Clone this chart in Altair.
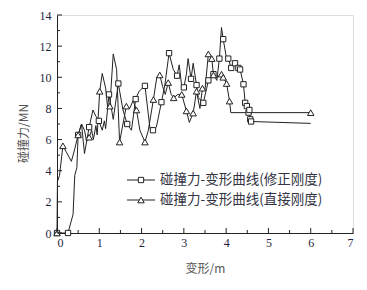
import altair as alt
import pandas as pd

# ---- data ----
series_names = ["碰撞力-变形曲线(修正刚度)", "碰撞力-变形曲线(直接刚度)"]

sq_x = [0, 0.26, 0.38, 0.42, 0.47, 0.5, 0.58, 0.65, 0.76, 0.85, 0.92, 0.99, 1.07, 1.12, 1.15,
        1.23, 1.33, 1.45, 1.56, 1.66, 1.76, 1.86, 1.94, 2.08, 2.2, 2.27, 2.35, 2.47, 2.55, 2.65,
        2.75, 2.84, 2.89, 2.95, 3.0, 3.06, 3.1, 3.17, 3.22, 3.3, 3.34, 3.46, 3.54, 3.58, 3.7,
        3.78, 3.84, 3.89, 3.93, 4.01, 4.05, 4.12, 4.21, 4.29, 4.33, 4.41, 4.45, 4.49, 4.53,
        4.55, 4.57, 4.59, 6.0]
sq_y = [0, 0, 1.2, 3.7, 4.2, 6.3, 7.0, 5.1, 6.8, 7.9, 7.5, 7.2, 6.6, 7.2, 6.7,
        8.9, 7.3, 9.6, 7.9, 7.0, 6.6, 8.6, 9.1, 9.45, 6.7, 6.6, 6.8, 8.4, 9.5, 11.55,
        10.5, 10.1, 10.8, 9.4, 9.35, 10.2, 11.2, 9.9, 10.9, 9.5, 8.7, 8.36, 9.3, 9.8, 10.2,
        9.8, 11.2, 13.2, 12.45, 11.2, 11.2, 10.6, 10.9, 10.6, 10.5, 9.55, 8.36, 8.15, 7.73,
        7.9, 7.3, 7.16, 7.04]
sq_mark = [1, 1, 0, 0, 0, 1, 0, 0, 1, 0, 0, 1, 0, 0, 0,
           1, 0, 1, 0, 1, 0, 1, 0, 1, 0, 1, 0, 1, 0, 1,
           0, 1, 0, 0, 1, 0, 0, 1, 0, 1, 0, 1, 0, 1, 1,
           0, 1, 0, 1, 0, 1, 1, 1, 1, 1, 1, 1, 1, 1,
           1, 1, 1, 0]

tr_x = [0, 0.01, 0.06, 0.14, 0.22, 0.34, 0.42, 0.5, 0.58, 0.65, 0.7, 0.76, 0.82, 0.86, 0.92,
        0.95, 1.01, 1.07, 1.15, 1.2, 1.25, 1.33, 1.41, 1.48, 1.56, 1.64, 1.72, 1.8, 1.88,
        1.96, 2.08, 2.16, 2.28, 2.36, 2.43, 2.5, 2.56, 2.63, 2.7, 2.76, 2.86, 2.95, 3.06,
        3.13, 3.22, 3.3, 3.38, 3.44, 3.5, 3.58, 3.66, 3.7, 3.78, 3.84, 3.89, 3.93, 4.01,
        4.08, 4.11, 6.0]
tr_y = [0, 3.3, 3.7, 5.6, 5.2, 4.6, 5.4, 6.3, 7.0, 6.6, 5.9, 6.15, 6.6, 6.0, 6.9,
        6.3, 9.1, 10.25, 9.3, 8.0, 8.15, 11.5, 10.5, 5.84, 7.0, 8.15, 8.0, 8.5, 7.9,
        6.6, 5.84, 6.6, 8.57, 10.0, 10.15, 9.4, 8.9, 9.66, 8.9, 8.68, 8.9, 8.9, 7.84,
        7.1, 7.7, 9.1, 8.0, 9.3, 9.2, 11.5, 11.2, 10.15, 10.0, 10.1, 10.2, 10.0, 9.6,
        8.47, 7.73, 7.73]
tr_mark = [1, 0, 0, 1, 0, 0, 0, 1, 0, 0, 0, 1, 0, 0, 0,
           0, 1, 0, 0, 0, 1, 0, 0, 1, 0, 1, 0, 0, 1,
           0, 1, 0, 1, 0, 1, 0, 0, 1, 0, 1, 0, 1, 1,
           0, 1, 1, 0, 1, 0, 1, 1, 1, 0, 0, 1, 1, 1,
           1, 0, 1]

x_major = [0, 1, 2, 3, 4, 5, 6, 7]
x_minor = [0.5, 1.5, 2.5, 3.5, 4.5, 5.5, 6.5]
y_major = [0, 2, 4, 6, 8, 10, 12, 14]
y_minor = [1, 3, 5, 7, 9, 11, 13]

x_title = "变形/m"
y_title = "碰撞力/MN"

# ---- style ----
W, H = 296, 218
INK = "#222222"
LABEL_COLOR = "#1f1f3f"
TITLE_COLOR = "#555555"
CJK = "Noto Sans CJK SC"
SERIF = "Liberation Serif"

xscale = alt.Scale(domain=[0, 7], nice=False, zero=False)
yscale = alt.Scale(domain=[0, 14], nice=False, zero=False)

df_sq = pd.DataFrame({"x": sq_x, "y": sq_y, "m": sq_mark, "i": range(len(sq_x))})
df_tr = pd.DataFrame({"x": tr_x, "y": tr_y, "m": tr_mark, "i": range(len(tr_x))})

xaxis = alt.Axis(values=x_major, ticks=False, grid=False, domainColor=INK, labelFont=SERIF,
                 labelFontSize=12, labelColor=LABEL_COLOR, labelPadding=4,
                 titleFont=CJK, titleFontSize=12, titleFontWeight="normal", titleColor=TITLE_COLOR,
                 titleY=35, titleBaseline="middle", format="d")
yaxis = alt.Axis(values=y_major, ticks=False, grid=False, domainColor=INK, labelFont=SERIF,
                 labelFontSize=12, labelColor=LABEL_COLOR, labelPadding=6,
                 titleFont=CJK, titleFontSize=12, titleFontWeight="normal", titleColor=TITLE_COLOR,
                 titleX=-34, titleY=118, titleAngle=-90, titleAlign="center",
                 titleBaseline="middle", format="d")


def X(field):
    return alt.X(field, scale=xscale, axis=xaxis, title=x_title)


def Y(field):
    return alt.Y(field, scale=yscale, axis=yaxis, title=y_title)


def line_layer(df):
    return alt.Chart(df).mark_line(color=INK, strokeWidth=1).encode(
        x=X("x:Q"), y=Y("y:Q"), order="i:Q")


def point_layer(df, shape, size):
    return alt.Chart(df).transform_filter("datum.m == 1").mark_point(
        shape=shape, size=size, filled=True, fill="white", stroke=INK, strokeWidth=1, opacity=1
    ).encode(x=X("x:Q"), y=Y("y:Q"))


# inward ticks
def xticks(vals, length):
    return alt.Chart(pd.DataFrame({"x": vals})).mark_rule(color=INK, strokeWidth=1).encode(
        x=X("x:Q"), y=alt.value(H), y2=alt.value(H - length))


def yticks(vals, length):
    return alt.Chart(pd.DataFrame({"y": vals})).mark_rule(color=INK, strokeWidth=1).encode(
        y=Y("y:Q"), x=alt.value(0), x2=alt.value(length))


# legend (manual)
def legend_row(name, shape, size, ypix):
    d = pd.DataFrame({"label": [name]})
    base = alt.Chart(d)
    ln = base.mark_rule(color=INK, strokeWidth=1).encode(
        x=alt.value(70), x2=alt.value(98), y=alt.value(ypix))
    pt = base.mark_point(shape=shape, size=size, filled=True, fill="white", stroke=INK,
                         strokeWidth=1, opacity=1).encode(x=alt.value(84), y=alt.value(ypix))
    tx = base.mark_text(align="left", baseline="middle", font=CJK, fontSize=13.5,
                        color="#333344").encode(x=alt.value(103), y=alt.value(ypix), text="label:N")
    return ln + pt + tx


chart = alt.layer(
    line_layer(df_sq),
    line_layer(df_tr),
    point_layer(df_sq, "square", 28),
    point_layer(df_tr, "triangle-up", 42),
    xticks(x_major, 5), xticks(x_minor, 3),
    yticks(y_major, 5), yticks(y_minor, 3),
    legend_row(series_names[0], "square", 28, 165),
    legend_row(series_names[1], "triangle-up", 42, 185),
).properties(
    width=W, height=H,
    autosize=alt.AutoSizeParams(type="none"),
    padding={"left": 49, "top": 7, "right": 6, "bottom": 50},
).configure_view(strokeWidth=0).configure(background="white")

chart.save("out.html", embed_options={"renderer": "svg", "actions": False})
